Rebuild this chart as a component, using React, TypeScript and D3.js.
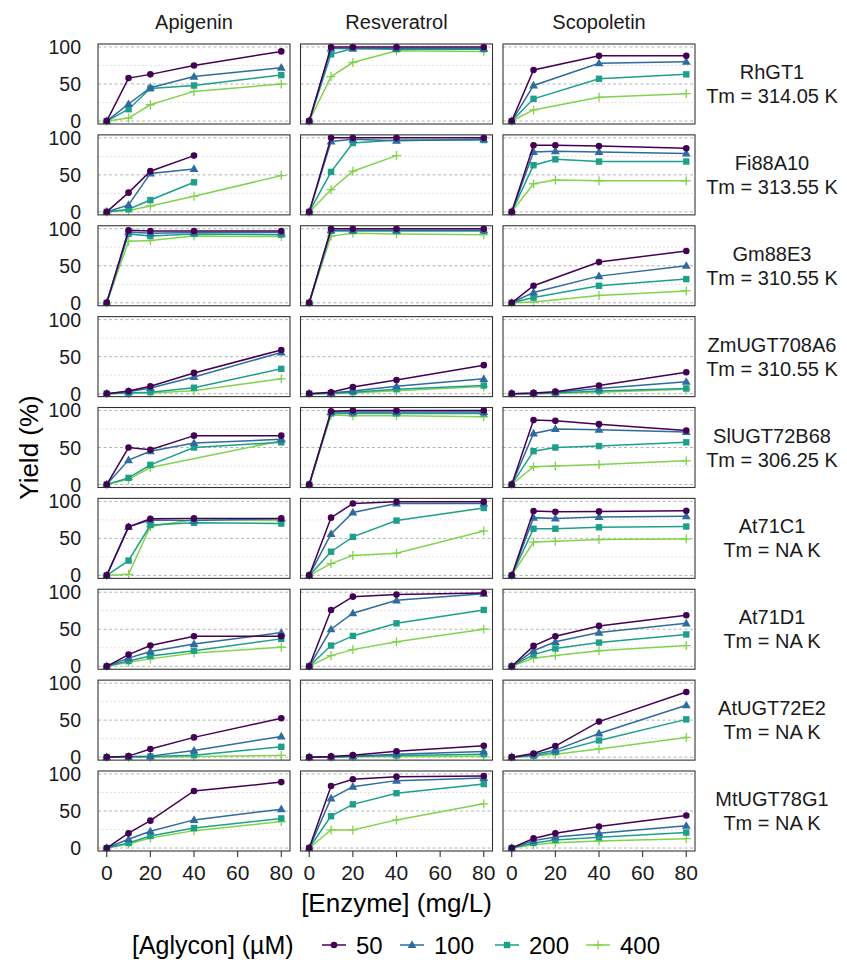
import React from "react";
import * as d3 from "d3";

const N = null;

// x values (enzyme mg/L) and facet labels
const doses = [0, 10, 20, 40, 80];
const aglycons = ["Apigenin", "Resveratrol", "Scopoletin"];
const concs = ["50", "100", "200", "400"];
const enzymes = ["RhGT1", "Fi88A10", "Gm88E3", "ZmUGT708A6", "SlUGT72B68", "At71C1", "At71D1", "AtUGT72E2", "MtUGT78G1"];
const tms = ["314.05", "313.55", "310.55", "310.55", "306.25", "NA", "NA", "NA", "NA"];
const xTicks = [0, 20, 40, 60, 80];
const yTicks = [0, 50, 100];
const yMinor = [25, 75];

// yield (%) per aglycon -> per concentration (50,100,200,400) -> per dose
const RhGT1 = [
  [[0, 58, 63, 75, 94], [0, 23, 45, 60, 72], [0, 16, 44, 48, 62], [0, 4, 22, 40, 50]],
  [[0, 100, 100, 100, 100], [0, 98, 98, 98, 98], [0, 90, 98, 97, 97], [0, 60, 79, 95, 94]],
  [[0, 69, N, 88, 88], [0, 48, N, 78, 80], [0, 30, N, 57, 63], [0, 15, N, 32, 37]],
];
const Fi88A10 = [
  [[0, 26, 55, 76, N], [0, 9.5, 52, 58, N], [0, 3.6, 16, 40, N], [0, 2, 8, 21, 49]],
  [[0, 100, 100, 100, 100], [0, 95, 98, 96, 98], [0, 54, 93, 97, 97], [0, 30, 55, 76, N]],
  [[0, 90, 90, 89, 86], [0, 81, 82, 81, 79], [0, 63, 71, 68, 68], [0, 38, 43, 42, 42]],
];
const Gm88E3 = [
  [[0, 98, 97, 97, 97], [0, 95.5, 94, 95, 95], [0, 93, 90, 93, 92], [0, 83, 84, 90, 89.5]],
  [[0, 100, 100, 100, 100], [0, 98, 98, 98, 98], [0, 97, 97, 97, 97], [0, 90, 94, 93, 92]],
  [[0, 23, N, 55, 70], [0, 14, N, 36, 50], [0, 7, N, 23, 32], [0, 1, N, 10, 16]],
];
const ZmUGT708A6 = [
  [[0, 3.6, 10, 28, 59], [0, 2.7, 7.7, 22.6, 55.6], [0, 1, 2, 8, 33.5], [0, 0.5, 1, 4, 20]],
  [[0, 2, 9, 18.5, 38.5], [0, 1, 3.6, 10, 20], [0, 0.5, 2, 6, 11], [0, 0, 1, 4, 9.5]],
  [[0, 1, 2.7, 11, 29], [0, 0.5, 2, 7, 16], [0, 0, 1, 3.6, 7], [0, 0, 0.5, 2, 6]],
];
const SlUGT72B68 = [
  [[0, 50, 47, 66, 66], [0, 33, 45, 56, 61], [0, 9, 26.6, 50, 57], [0, 7, 23, N, 59]],
  [[0, 99, 100, 100, 100], [0, 98, 98, 98, 98], [0, 96, 96, 96, 96], [0, 94, 93, 93, 91.5]],
  [[0, 87, 86, 81.5, 73], [0, 69, 75, 74, 71], [0, 45, 50, 52, 57], [0, 24, 25, 27, 32]],
];
const At71C1 = [
  [[0, 65.6, 76.5, 77, 77], [0, 65.6, 74.7, 74, 76.5], [0, 20, 68, 71, 70], [0, 1.5, 66, 75.6, 74]],
  [[0, 78, 97, 99.5, 99.5], [0, 56, 85, 97, 97], [0, 32, 52, 74, 91], [0, 16, 27, 30, 60]],
  [[0, 87, 86, 86.4, 87.3], [0, 78, 77, 79, 80], [0, 63, 63, 65, 66], [0, 45, 46, 48.4, 49]],
];
const At71D1 = [
  [[0, 15.8, 28, 40.5, 40.5], [0, 11, 20, 30, 45.5], [0, 7, 14, 21, 37], [0, 5.4, 10, 18, 25.7]],
  [[0, 76, 94, 97, 99], [0, 50, 71.6, 89, 98], [0, 28, 41, 58, 76], [0, 14.4, 22.5, 33, 50]],
  [[0, 27.5, 40.5, 54.5, 69], [0, 21, 33, 45.5, 58], [0, 15.8, 24, 32, 43], [0, 11, 14.4, 21, 28]],
];
const AtUGT72E2 = [
  [[0, 1.4, 11, 26.7, 52.5], [0, 0.5, 1.4, 9, 28], [0, 0.5, 1, 2.7, 14], [0, 0, 0, 1, 2.3]],
  [[0, 1, 2.7, 8, 15.4], [0, 0.5, 1.4, 4, 7.7], [0, 0, 1, 2.3, 4], [0, 0, 0.5, 1, 1.4]],
  [[0, 5, 15, 48, 88], [0, 3.6, 9.5, 32, 70], [0, 1.8, 6.8, 22.6, 51], [0, 1.4, 4, 11, 26.7]],
];
const MtUGT78G1 = [
  [[0, 20, 37, 77, 89], [0, 11.8, 22.6, 38, 52.5], [0, 6.8, 16.3, 27, 40], [0, 5.4, 13.6, 23.5, 35.7]],
  [[0, 83.7, 92.8, 96.4, 97.3], [0, 67, 82.8, 91, 94.6], [0, 43, 59, 74, 86.4], [0, 24.4, 24.4, 38, 59.7]],
  [[0, 13, 20, 29, 44], [0, 10, 15, 20, 30], [0, 6.8, 11, 14.5, 21], [0, 4.5, 7, 9.5, 12.7]],
];

const yields = [RhGT1, Fi88A10, Gm88E3, ZmUGT708A6, SlUGT72B68, At71C1, At71D1, AtUGT72E2, MtUGT78G1];

const colors = ["#440154", "#2F6B9E", "#1CA089", "#82D34C"];
const font = "'Liberation Sans', Arial, sans-serif";

// layout
const W = 847, H = 976;
const left0 = 98, colStep = 202.5, panelW = 192;
const top0 = 44, rowStep = 90.875, panelH = 80;

const x = d3.scaleLinear().domain([-4, 84]).range([0, panelW]);
const y = d3.scaleLinear().domain([-4, 104]).range([panelH, 0]);

const line = d3.line<[number, number]>()
  .x(d => x(d[0]))
  .y(d => y(d[1]));

const Marker = ({ s, cx, cy }: { s: number; cx: number; cy: number }) => {
  const c = colors[s];
  if (s === 0) return <circle cx={cx} cy={cy} r={3.3} fill={c} />;
  if (s === 1) {
    const p = d3.symbol(d3.symbolTriangle, 34)()!;
    return <path d={p} transform={`translate(${cx},${cy + 0.5})`} fill={c} />;
  }
  if (s === 2) return <rect x={cx - 3.2} y={cy - 3.2} width={6.4} height={6.4} fill={c} />;
  return <path d={`M${cx - 4.5},${cy}H${cx + 4.5}M${cx},${cy - 4.5}V${cy + 4.5}`} stroke={c} strokeWidth={1.3} />;
};

const Panel = ({ r, c }: { r: number; c: number }) => {
  const series = yields[r][c];
  const order = [3, 2, 1, 0];
  return (
    <g transform={`translate(${left0 + c * colStep},${top0 + r * rowStep})`}>
      <rect width={panelW} height={panelH} fill="white" />
      {yMinor.map(v => (
        <line key={"m" + v} x1={0} x2={panelW} y1={y(v)} y2={y(v)} stroke="#cfcfcf" strokeWidth={0.8} strokeDasharray="1.5,2.5" />
      ))}
      {yTicks.map(v => (
        <line key={"M" + v} x1={0} x2={panelW} y1={y(v)} y2={y(v)} stroke="#b5b5b5" strokeWidth={1} strokeDasharray="3,2.5" />
      ))}
      {order.map(s => {
        const pts = doses
          .map((d, i) => [d, series[s][i]] as [number, number | null])
          .filter(p => p[1] !== null) as [number, number][];
        return (
          <g key={s}>
            <path d={line(pts) || ""} fill="none" stroke={colors[s]} strokeWidth={1.5} />
            {pts.map((p, i) => <Marker key={i} s={s} cx={x(p[0])} cy={y(p[1])} />)}
          </g>
        );
      })}
      <rect width={panelW} height={panelH} fill="none" stroke="#333" strokeWidth={1.1} />
    </g>
  );
};

export default function App() {
  const rows = d3.range(enzymes.length);
  const cols = d3.range(aglycons.length);
  const bottom = top0 + (enzymes.length - 1) * rowStep + panelH;
  const plotMid = left0 + (2 * colStep + panelW) / 2;
  const legendKeys = [322, 400, 495, 586];
  return (
    <svg width={W} height={H} style={{ position: "absolute", left: 0, top: 0, background: "white" }} fontFamily={font}>
      {/* column strips */}
      {cols.map(c => (
        <text key={c} x={left0 + c * colStep + panelW / 2} y={29} textAnchor="middle" fontSize={20} fill="#1a1a1a">
          {aglycons[c]}
        </text>
      ))}
      {/* row strips */}
      {rows.map(r => {
        const cy = top0 + r * rowStep + panelH / 2;
        return (
          <g key={r} fill="#1a1a1a" fontSize={20} textAnchor="middle">
            <text x={772} y={cy - 5}>{enzymes[r]}</text>
            <text x={772} y={cy + 19}>{`Tm = ${tms[r]} K`}</text>
          </g>
        );
      })}
      {/* y tick labels */}
      {rows.map(r => (
        <g key={r} transform={`translate(${left0},${top0 + r * rowStep})`}>
          {yTicks.map(v => (
            <text key={v} x={-17} y={y(v)} dy="0.36em" textAnchor="end" fontSize={19.5} fill="#1a1a1a">{v}</text>
          ))}
        </g>
      ))}
      {rows.map(r => cols.map(c => <Panel key={r + "-" + c} r={r} c={c} />))}
      {/* x axes */}
      {cols.map(c => (
        <g key={c} transform={`translate(${left0 + c * colStep},${bottom})`}>
          {xTicks.map(v => (
            <g key={v} transform={`translate(${x(v)},0)`}>
              <line y1={0} y2={6} stroke="#333" strokeWidth={1.1} />
              <text y={21} dy="0.36em" textAnchor="middle" fontSize={21} fill="#1a1a1a">{v}</text>
            </g>
          ))}
        </g>
      ))}
      <text x={plotMid} y={bottom + 61} textAnchor="middle" fontSize={26} fill="#000">[Enzyme] (mg/L)</text>
      <text transform={`translate(38,${(top0 + bottom) / 2}) rotate(-90)`} textAnchor="middle" fontSize={26} fill="#000">Yield (%)</text>
      {/* legend */}
      <g transform="translate(0,945)">
        <text x={132} y={0} dy="0.36em" fontSize={25} fill="#000">[Aglycon] (µM)</text>
        {concs.map((cn, i) => (
          <g key={cn} transform={`translate(${legendKeys[i]},0)`}>
            <line x1={0} x2={24} y1={0} y2={0} stroke={colors[i]} strokeWidth={1.5} />
            <Marker s={i} cx={12} cy={0} />
            <text x={34} y={0} dy="0.36em" fontSize={24} fill="#000">{cn}</text>
          </g>
        ))}
      </g>
    </svg>
  );
}
